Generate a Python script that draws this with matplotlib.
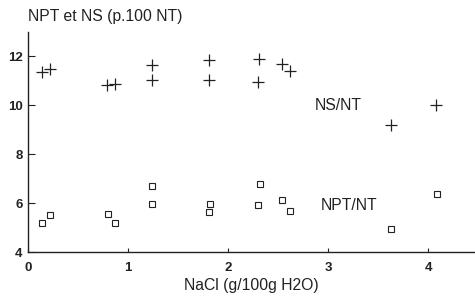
import matplotlib
matplotlib.use("Agg")
import matplotlib.pyplot as plt

plt.rcParams['font.family'] = ['Liberation Sans', 'DejaVu Sans']

nacl = [0.14, 0.22, 0.79, 0.87, 1.24, 1.24, 1.81, 1.81, 2.31, 2.30, 2.54, 2.62, 3.63, 4.08]
ns_nt = [11.36, 11.50, 10.82, 10.86, 11.65, 11.05, 11.84, 11.02, 11.88, 10.97, 11.68, 11.40, 9.18, 10.0]
npt_nt = [5.21, 5.50, 5.56, 5.21, 6.69, 5.97, 5.97, 5.66, 6.79, 5.93, 6.14, 5.69, 4.94, 6.39]
# x positions for NPT points (read separately)
nacl_npt = [0.14, 0.22, 0.80, 0.87, 1.24, 1.24, 1.82, 1.81, 2.32, 2.30, 2.54, 2.62, 3.63, 4.09]

xticks = [0, 1, 2, 3, 4]
yticks = [4, 6, 8, 10, 12]

fig = plt.figure(figsize=(4.75, 2.96), dpi=100)
ax = fig.add_axes([0.059, 0.148, 0.941, 0.744])
ax.plot(nacl, ns_nt, linestyle='none', marker='+', markersize=8, markeredgewidth=0.9, color='#222222')
ax.plot(nacl_npt, npt_nt, linestyle='none', marker='s', markersize=5, markeredgewidth=0.8,
        markerfacecolor='none', markeredgecolor='#222222')

ax.set_xlim(0, 4.47)
ax.set_ylim(4, 13)
ax.set_xticks(xticks)
ax.set_yticks(yticks)
for s in ['top', 'right']:
    ax.spines[s].set_visible(False)
for s in ['left', 'bottom']:
    ax.spines[s].set_linewidth(1.0)
    ax.spines[s].set_color('#222222')
ax.tick_params(axis='y', direction='in', length=5, width=0.8, labelsize=9.5, colors='#222222', pad=4)
ax.tick_params(axis='x', direction='in', length=3, width=0.8, labelsize=9.5, colors='#222222', pad=7)
for lab in ax.get_xticklabels() + ax.get_yticklabels():
    lab.set_fontweight('bold')

ax.set_xlabel('NaCl (g/100g H2O)', fontsize=11.3, color='#222222', labelpad=3)
fig.text(0.059, 0.945, 'NPT et NS (p.100 NT)', fontsize=11.3, color='#222222', ha='left', va='center')
ax.text(3.10, 10.0, 'NS/NT', fontsize=11.3, color='#222222', ha='center', va='center')
ax.text(3.21, 5.9, 'NPT/NT', fontsize=11.3, color='#222222', ha='center', va='center')

fig.savefig('out.png', dpi=100)
